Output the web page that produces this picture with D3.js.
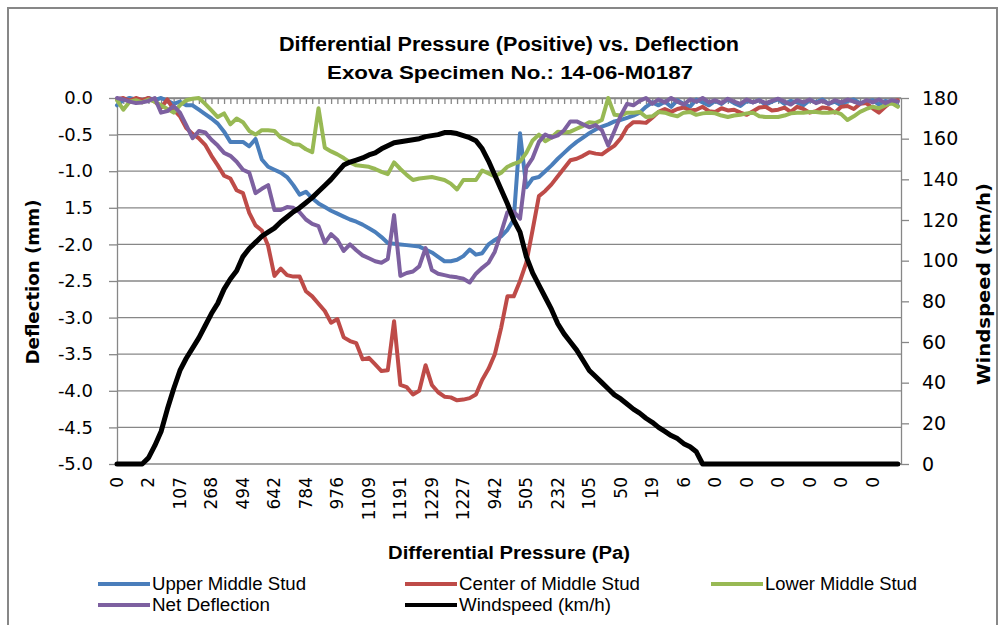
<!DOCTYPE html>
<html>
<head>
<meta charset="utf-8">
<script src="https://cdn.jsdelivr.net/npm/d3@7"></script>
<style>
  body { margin: 0; background: #fff; }
  svg { display: block; }
</style>
</head>
<body>
<div id="chart"></div>
<script>
// =============================================================================
// Data
// =============================================================================
// Pressure (Pa) shown under every 10th reading
const pressureLabels = ['0', '2', '107', '268', '494', '642', '784', '976', '1109', '1191', '1229', '1227',
    '942', '505', '232', '105', '50', '19', '6', '0', '0', '0', '0', '0', '0'];
const CATEGORY_COUNT = 250;   // readings on the category axis
const LABEL_EVERY = 10;
const TICK_EVERY = 2;
const SAMPLE_STEP = 2;        // series below are read at every 2nd reading

const deflectionTicks = [0, -0.5, -1, -1.5, -2, -2.5, -3, -3.5, -4, -4.5, -5];
const deflectionTickLabels = ['0.0', '-0.5', '-1.0', '1.5', '-2.0', '-2.5', '-3.0', '-3.5', '-4.0', '-4.5', '-5.0'];
const windTicks = [0, 20, 40, 60, 80, 100, 120, 140, 160, 180];

const upperMiddleStud = [
    -0.10, -0.03, 0.00, -0.02, -0.05, 0.00, -0.03, 0.00, -0.04, -0.08,
    -0.05, -0.10, -0.10, -0.16, -0.22, -0.28, -0.35, -0.46, -0.60, -0.60,
    -0.60, -0.66, -0.56, -0.84, -0.94, -0.98, -1.02, -1.08, -1.19, -1.32,
    -1.28, -1.37, -1.44, -1.49, -1.54, -1.58, -1.62, -1.66, -1.69, -1.73,
    -1.78, -1.83, -1.90, -1.98, -1.99, -2.00, -2.01, -2.02, -2.03, -2.07,
    -2.11, -2.17, -2.23, -2.23, -2.21, -2.16, -2.07, -2.14, -2.12, -2.00,
    -1.94, -1.89, -1.80, -1.66, -0.48, -1.22, -1.10, -1.08, -1.00, -0.92,
    -0.83, -0.75, -0.67, -0.60, -0.54, -0.48, -0.43, -0.39, -0.36, -0.32,
    -0.30, -0.27, -0.24, -0.20, -0.12, -0.06, -0.10, -0.05, -0.12, -0.03,
    -0.08, -0.12, -0.02, -0.06, -0.10, -0.04, -0.08, -0.02, -0.07, -0.11,
    -0.04, -0.06, -0.03, -0.09, -0.05, -0.02, -0.08, -0.04, -0.06, -0.10,
    -0.03, -0.06, -0.02, -0.08, -0.05, -0.10, -0.04, -0.02, -0.07, -0.05,
    -0.03, -0.09, -0.04, -0.06, -0.11
];

const centerOfMiddleStud = [
    -0.02, 0.00, -0.04, 0.00, -0.03, 0.00, -0.05, -0.13, -0.02, -0.16,
    -0.25, -0.41, -0.49, -0.55, -0.64, -0.79, -0.92, -1.06, -1.10, -1.26,
    -1.30, -1.57, -1.74, -1.81, -2.02, -2.43, -2.33, -2.42, -2.44, -2.44,
    -2.64, -2.71, -2.81, -2.91, -3.07, -3.02, -3.27, -3.32, -3.35, -3.57,
    -3.55, -3.64, -3.73, -3.72, -3.05, -3.92, -3.95, -4.05, -4.00, -3.65,
    -3.92, -4.02, -4.08, -4.09, -4.13, -4.12, -4.10, -4.05, -3.85, -3.70,
    -3.50, -3.14, -2.71, -2.71, -2.50, -2.25, -1.80, -1.34, -1.27, -1.18,
    -1.07, -0.96, -0.85, -0.83, -0.79, -0.74, -0.76, -0.77, -0.71, -0.65,
    -0.55, -0.40, -0.33, -0.33, -0.34, -0.27, -0.19, -0.15, -0.19, -0.15,
    -0.13, -0.17, -0.16, -0.12, -0.18, -0.19, -0.14, -0.17, -0.16, -0.20,
    -0.23, -0.18, -0.13, -0.12, -0.17, -0.16, -0.13, -0.19, -0.12, -0.15,
    -0.20, -0.18, -0.13, -0.14, -0.20, -0.12, -0.11, -0.15, -0.08, -0.07,
    -0.14, -0.20, -0.12, -0.05, -0.03
];

const lowerMiddleStud = [
    -0.03, -0.16, -0.05, -0.03, -0.06, -0.02, -0.05, -0.10, -0.15, -0.20,
    -0.10, -0.03, -0.01, 0.00, -0.08, -0.17, -0.26, -0.21, -0.36, -0.28,
    -0.33, -0.45, -0.50, -0.44, -0.44, -0.45, -0.54, -0.58, -0.63, -0.64,
    -0.70, -0.74, -0.14, -0.68, -0.73, -0.77, -0.82, -0.88, -0.92, -0.93,
    -0.94, -0.97, -1.01, -1.04, -0.88, -0.97, -1.05, -1.12, -1.10, -1.09,
    -1.08, -1.10, -1.12, -1.17, -1.25, -1.12, -1.12, -1.12, -0.99, -1.03,
    -1.07, -1.02, -0.94, -0.90, -0.87, -0.75, -0.58, -0.50, -0.59, -0.54,
    -0.46, -0.47, -0.46, -0.42, -0.38, -0.33, -0.34, -0.30, 0.00, -0.23,
    -0.24, -0.20, -0.20, -0.19, -0.26, -0.25, -0.19, -0.20, -0.23, -0.25,
    -0.20, -0.19, -0.23, -0.21, -0.20, -0.21, -0.24, -0.26, -0.24, -0.23,
    -0.21, -0.20, -0.25, -0.26, -0.26, -0.26, -0.24, -0.21, -0.20, -0.20,
    -0.19, -0.19, -0.20, -0.20, -0.19, -0.22, -0.30, -0.25, -0.19, -0.15,
    -0.12, -0.14, -0.10, -0.07, -0.12
];

const netDeflection = [
    0.00, -0.02, -0.05, -0.07, -0.06, -0.04, 0.00, -0.20, -0.18, -0.11,
    -0.20, -0.37, -0.55, -0.45, -0.47, -0.57, -0.65, -0.75, -0.79, -0.87,
    -0.98, -1.02, -1.30, -1.24, -1.19, -1.53, -1.53, -1.49, -1.50, -1.56,
    -1.66, -1.72, -1.75, -1.98, -1.86, -1.94, -2.09, -2.00, -2.08, -2.15,
    -2.19, -2.23, -2.25, -2.20, -1.60, -2.43, -2.39, -2.37, -2.30, -2.05,
    -2.35, -2.40, -2.42, -2.44, -2.45, -2.47, -2.52, -2.40, -2.32, -2.25,
    -2.10, -1.84, -1.56, -1.55, -1.65, -0.95, -0.82, -0.60, -0.50, -0.54,
    -0.51, -0.44, -0.32, -0.32, -0.36, -0.40, -0.37, -0.44, -0.65, -0.45,
    -0.24, -0.08, -0.10, -0.04, 0.00, -0.08, -0.02, -0.06, 0.00, -0.05,
    -0.09, -0.02, -0.05, 0.00, -0.06, -0.03, -0.07, -0.01, -0.05, -0.08,
    -0.02, -0.06, -0.03, -0.07, -0.04, -0.01, -0.05, -0.09, -0.03, -0.06,
    -0.02, -0.07, -0.04, -0.08, -0.03, -0.06, -0.02, -0.05, -0.08, -0.03,
    -0.06, -0.02, -0.07, -0.03, -0.05
];

const windspeed = [
    0, 0, 0, 0, 0, 3, 9, 16, 27, 37,
    46, 52, 57, 62, 68, 74, 79, 86, 91, 95,
    102, 106, 109, 112, 114, 116, 119, 121.5, 124, 126,
    128.5, 131, 134, 137, 140, 143.5, 147, 148.5, 149.5, 150.5,
    152, 153, 155, 156.5, 158, 158.5, 159, 159.5, 160, 161,
    161.5, 162, 163, 163, 162.5, 161.5, 160.5, 159, 155, 149,
    142, 135, 128, 120, 114, 102, 94, 88, 82, 76,
    69, 64, 60, 56, 51, 46, 43, 40, 37, 34,
    32, 29.5, 27, 25, 22.5, 20.5, 18, 16, 14, 12.5,
    10, 8.5, 6, 0, 0, 0, 0, 0, 0, 0,
    0, 0, 0, 0, 0, 0, 0, 0, 0, 0,
    0, 0, 0, 0, 0, 0, 0, 0, 0, 0,
    0, 0, 0, 0, 0
];

// =============================================================================
// Visual Configuration
// =============================================================================
const WIDTH = 999;
const HEIGHT = 625;
const PLOT = { left: 117, right: 901, top: 98, bottom: 464 };
const AXIS_GRAY = '#878787';
const LABEL_FONT = '"DejaVu Sans", Verdana, sans-serif';
const TEXT_FONT = '"Liberation Sans", Arial, sans-serif';

const series = [
    { name: 'Upper Middle Stud', values: upperMiddleStud, color: '#4a7ebb', width: 4, axis: 'left' },
    { name: 'Center of Middle Stud', values: centerOfMiddleStud, color: '#be4b48', width: 4, axis: 'left' },
    { name: 'Lower Middle Stud', values: lowerMiddleStud, color: '#98b954', width: 4, axis: 'left' },
    { name: 'Net Deflection', values: netDeflection, color: '#7d60a0', width: 4, axis: 'left' },
    { name: 'Windspeed (km/h)', values: windspeed, color: '#000000', width: 5, axis: 'right' }
];

const svg = d3.select('#chart')
    .append('svg')
    .attr('width', WIDTH)
    .attr('height', HEIGHT);

// Chart frame
svg.append('rect')
    .attr('x', 8).attr('y', 8)
    .attr('width', 989).attr('height', 640)
    .attr('fill', '#fff')
    .attr('stroke', AXIS_GRAY)
    .attr('stroke-width', 2);

// Scales
const x = d3.scaleLinear().domain([0, CATEGORY_COUNT - 1]).range([PLOT.left, PLOT.right]);
const yDefl = d3.scaleLinear().domain([-5, 0]).range([PLOT.bottom, PLOT.top]);
const yWind = d3.scaleLinear().domain([0, 180]).range([PLOT.bottom, PLOT.top]);

// Horizontal gridlines
svg.append('g')
    .selectAll('line')
    .data(deflectionTicks)
    .enter()
    .append('line')
    .attr('x1', PLOT.left).attr('x2', PLOT.right)
    .attr('y1', d => yDefl(d)).attr('y2', d => yDefl(d))
    .attr('stroke', AXIS_GRAY)
    .attr('stroke-width', 1.3);

// Left axis
const leftAxis = svg.append('g')
    .attr('transform', `translate(${PLOT.left},0)`)
    .call(d3.axisLeft(yDefl)
        .tickValues(deflectionTicks)
        .tickSize(8)
        .tickSizeOuter(0)
        .tickPadding(16)
        .tickFormat((d, i) => deflectionTickLabels[i]));

// Right axis
const rightAxis = svg.append('g')
    .attr('transform', `translate(${PLOT.right},0)`)
    .call(d3.axisRight(yWind)
        .tickValues(windTicks)
        .tickSize(8)
        .tickSizeOuter(0)
        .tickPadding(13));

// Category axis sits at deflection 0 (top), ticks point into the plot
const catAxis = svg.append('g')
    .attr('transform', `translate(0,${PLOT.top})`)
    .call(d3.axisBottom(x)
        .tickValues(d3.range(0, CATEGORY_COUNT, TICK_EVERY))
        .tickSize(6)
        .tickSizeOuter(0)
        .tickFormat(''));

[leftAxis, rightAxis, catAxis].forEach(g => {
    g.selectAll('path, line').attr('stroke', AXIS_GRAY).attr('stroke-width', 1.3);
    g.selectAll('text')
        .attr('fill', '#000')
        .style('font-family', LABEL_FONT)
        .style('font-size', '18px');
});
rightAxis.selectAll('text').style('font-size', '19px');

// Pressure labels at the bottom, rotated
svg.append('g')
    .selectAll('text')
    .data(pressureLabels)
    .enter()
    .append('text')
    .attr('transform', (d, i) => `translate(${x(i * LABEL_EVERY)},${PLOT.bottom + 13}) rotate(-90)`)
    .attr('text-anchor', 'end')
    .attr('dy', '0.35em')
    .style('font-family', LABEL_FONT)
    .style('font-size', '17px')
    .text(d => d);

// Series lines
const lineFor = s => d3.line()
    .x((d, i) => x(i * SAMPLE_STEP))
    .y(d => (s.axis === 'left' ? yDefl(d) : yWind(d)));

svg.append('g')
    .selectAll('path')
    .data(series)
    .enter()
    .append('path')
    .attr('d', s => lineFor(s)(s.values))
    .attr('fill', 'none')
    .attr('stroke', s => s.color)
    .attr('stroke-width', s => s.width)
    .attr('stroke-linejoin', 'round')
    .attr('stroke-linecap', 'round');

// Titles
svg.append('text')
    .attr('x', 509).attr('y', 51)
    .attr('text-anchor', 'middle')
    .attr('textLength', 460)
    .attr('lengthAdjust', 'spacingAndGlyphs')
    .style('font-family', TEXT_FONT)
    .style('font-size', '20px')
    .style('font-weight', 'bold')
    .text('Differential Pressure (Positive) vs. Deflection');

svg.append('text')
    .attr('x', 510).attr('y', 79)
    .attr('text-anchor', 'middle')
    .attr('textLength', 366)
    .attr('lengthAdjust', 'spacingAndGlyphs')
    .style('font-family', TEXT_FONT)
    .style('font-size', '18px')
    .style('font-weight', 'bold')
    .text('Exova Specimen No.: 14-06-M0187');

svg.append('text')
    .attr('transform', 'translate(39,282) rotate(-90)')
    .attr('text-anchor', 'middle')
    .attr('textLength', 165)
    .attr('lengthAdjust', 'spacingAndGlyphs')
    .style('font-family', LABEL_FONT)
    .style('font-size', '18px')
    .style('font-weight', 'bold')
    .text('Deflection (mm)');

svg.append('text')
    .attr('transform', 'translate(990,284) rotate(-90)')
    .attr('text-anchor', 'middle')
    .attr('textLength', 202)
    .attr('lengthAdjust', 'spacingAndGlyphs')
    .style('font-family', LABEL_FONT)
    .style('font-size', '18px')
    .style('font-weight', 'bold')
    .text('Windspeed (km/h)');

svg.append('text')
    .attr('x', 509).attr('y', 559)
    .attr('text-anchor', 'middle')
    .attr('textLength', 242)
    .attr('lengthAdjust', 'spacingAndGlyphs')
    .style('font-family', TEXT_FONT)
    .style('font-size', '18px')
    .style('font-weight', 'bold')
    .text('Differential Pressure (Pa)');

// Legend: three columns, two rows
const legendCols = [98, 405, 711];
const legendRows = [584, 605];
const legendWidths = [154, 181, 152, 118, 152];

const legend = svg.append('g')
    .selectAll('g')
    .data(series)
    .enter()
    .append('g')
    .attr('transform', (s, i) => `translate(${legendCols[i % 3]},${legendRows[Math.floor(i / 3)]})`);

legend.append('line')
    .attr('x1', 0).attr('x2', 52)
    .attr('stroke', s => s.color)
    .attr('stroke-width', 4);

legend.append('text')
    .attr('x', 54)
    .attr('dy', '0.35em')
    .attr('textLength', (s, i) => legendWidths[i])
    .attr('lengthAdjust', 'spacingAndGlyphs')
    .style('font-family', TEXT_FONT)
    .style('font-size', '18px')
    .text(s => s.name);
</script>
</body>
</html>
